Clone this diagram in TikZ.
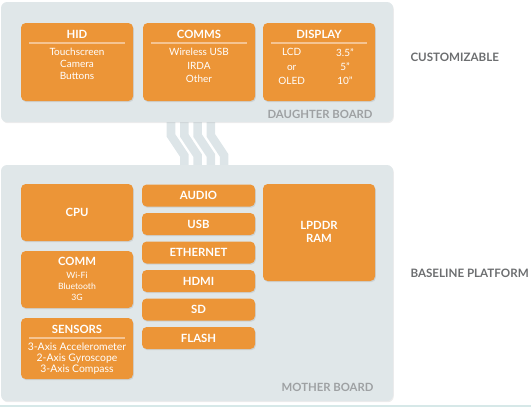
\documentclass[tikz,border=0pt]{standalone}
\usepackage{fontspec}
\setmainfont{Lato}
\usetikzlibrary{shadows,backgrounds,calc}
\definecolor{boxorange}{RGB}{236,149,55}
\definecolor{panelgrey}{RGB}{224,231,233}
\definecolor{stripegrey}{RGB}{221,229,232}
\definecolor{labelgrey}{RGB}{108,110,112}
\definecolor{boardgrey}{RGB}{158,161,163}
\definecolor{rulecolor}{RGB}{245,196,146}
\definecolor{bottomteal}{RGB}{214,232,232}
\tikzset{every picture/.style={line width=0.75pt}}
\tikzset{
	panel/.style={fill=panelgrey, rounded corners=4.5pt, inner sep=0pt,
		drop shadow={shadow xshift=0.6pt, shadow yshift=-0.9pt, opacity=0.15}},
	box/.style={fill=boxorange, rounded corners=3.5pt, inner sep=0pt,
		drop shadow={shadow xshift=0.6pt, shadow yshift=-0.9pt, opacity=0.2}},
	boxhead/.style={text=white, font=\bfseries\fontsize{8.5}{9.75}\selectfont, align=center, inner sep=0pt},
	boxtext/.style={text=white, font=\fontsize{7}{9}\selectfont, align=center, inner sep=0pt},
	boardlabel/.style={text=boardgrey, font=\bfseries\fontsize{8.5}{9}\selectfont, anchor=east, inner sep=0pt},
	sidelabel/.style={text=labelgrey, font=\bfseries\fontsize{8.7}{9}\selectfont, anchor=west, inner sep=0pt},
	sepline/.style={draw=rulecolor, line width=1pt},
	stripe/.style={draw=stripegrey, line width=6.4pt}
}

\begin{document}
\begin{tikzpicture}[x=0.75pt,y=0.75pt,yscale=-1,xscale=1]
	\useasboundingbox (0,0) rectangle (531,407);

	%Shape: Panels
	\node[panel, minimum width=294pt, minimum height=90pt] (daughter) at (197,62) {};
	\node[panel, minimum width=294pt, minimum height=177pt] (mother) at (197,283) {};

	%Straight Lines: board connector
	\begin{scope}[on background layer]
		\foreach \i in {0,...,3}
			\draw[stripe] ($(daughter.south)+(-26+13.3*\i,-4)$) -- ++(0,17) -- ++(13.3,20) -- ($(mother.north)+(-12.7+13.3*\i,4)$);
	\end{scope}

	%Shape: Daughter board boxes
	\node[box, minimum width=84pt, minimum height=58.5pt] (hid) at (77,62) {};
	\node[box, minimum width=84pt, minimum height=58.5pt] (comms) at (199,62) {};
	\node[box, minimum width=84pt, minimum height=58.5pt] (display) at (319,62) {};

	% Text Node
	\node[boxhead] (hidhead) at (77,34) {HID};
	\draw[sepline] (29,43) -- (125,43);
	\node[boxtext, font=\fontsize{7.5}{9}\selectfont] (hidtext) at (77,64) {Touchscreen\\Camera\\Buttons};
	% Text Node
	\node[boxhead] (commshead) at (199,34) {COMMS};
	\draw[sepline] (151,43) -- (247,43);
	\node[boxtext, font=\fontsize{7.5}{10.3}\selectfont] (commstext) at (199,65.5) {Wireless USB\\IRDA\\Other};
	% Text Node
	\node[boxhead] (displayhead) at (319,34) {DISPLAY};
	\draw[sepline] (271,43) -- (367,43);
	\node[boxtext, font=\fontsize{7.5}{10.6}\selectfont] (displaytype) at (291.7,66.5) {LCD\\or\\OLED};
	\node[boxtext, font=\fontsize{7.5}{10.6}\selectfont] (displaysize) at (345,66.5) {3.5''\\5''\\10''};

	%Shape: Mother board boxes
	\node[box, minimum width=84pt, minimum height=42.75pt] (cpu) at (77,212.5) {};
	\node[box, minimum width=84pt, minimum height=42.75pt] (comm) at (77,279.5) {};
	\node[box, minimum width=84pt, minimum height=45.75pt] (sensors) at (77,348.5) {};
	\node[box, minimum width=84.75pt, minimum height=16.5pt] (audio) at (198.5,195.5) {};
	\node[box, minimum width=84.75pt, minimum height=16.5pt] (usb) at (198.5,224) {};
	\node[box, minimum width=84.75pt, minimum height=16.5pt] (ethernet) at (198.5,252.5) {};
	\node[box, minimum width=84.75pt, minimum height=16.5pt] (hdmi) at (198.5,281) {};
	\node[box, minimum width=84.75pt, minimum height=16.5pt] (sd) at (198.5,309.5) {};
	\node[box, minimum width=84.75pt, minimum height=16.5pt] (flash) at (198.5,338) {};
	\node[box, minimum width=84pt, minimum height=72.75pt] (ram) at (319,232.5) {};

	% Text Node
	\node[boxhead] at (cpu) {CPU};
	\node[boxhead] (commhead) at (77,261) {COMM};
	\node[boxtext, font=\fontsize{6.5}{8.25}\selectfont] (commtext) at (77,286.5) {Wi-Fi\\Bluetooth\\3G};
	\node[boxhead] (sensorshead) at (77,329) {SENSORS};
	\draw[sepline] (29,338) -- (125,338);
	\node[boxtext, font=\fontsize{7.8}{8.25}\selectfont] (sensorstext) at (77,358.5) {3-Axis Accelerometer\\2-Axis Gyroscope\\3-Axis Compass};
	\node[boxhead] at (audio) {AUDIO};
	\node[boxhead] at (usb) {USB};
	\node[boxhead] at (ethernet) {ETHERNET};
	\node[boxhead] at (hdmi) {HDMI};
	\node[boxhead] at (sd) {SD};
	\node[boxhead] at (flash) {FLASH};
	\node[boxhead] (ramtext) at (319,231.5) {LPDDR\\RAM};

	% Text Node: board and side labels
	\node[boardlabel] (daughterlabel) at (373,114) {DAUGHTER BOARD};
	\node[boardlabel] (motherlabel) at (374,387) {MOTHER BOARD};
	\node[sidelabel] (custom) at (410,57) {CUSTOMIZABLE};
	\node[sidelabel] (baseline) at (410,273) {BASELINE PLATFORM};

	%Straight Lines: bottom edge
	\draw[draw=bottomteal, line width=1.5pt] (0,406) -- (531,406);
\end{tikzpicture}
\end{document}
